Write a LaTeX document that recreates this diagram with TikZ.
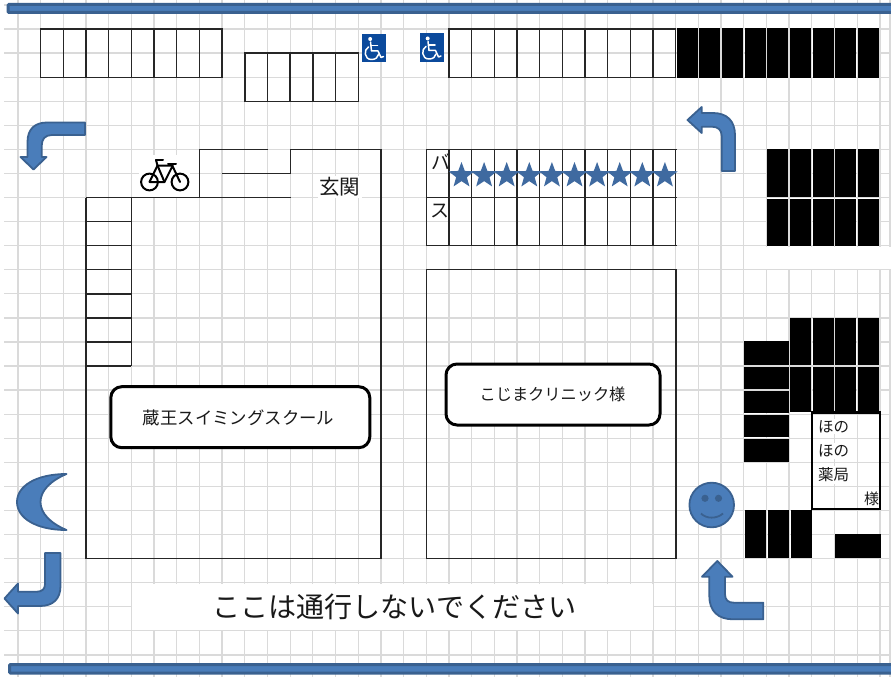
\documentclass[tikz,border=0pt]{standalone}
\usepackage{fontspec}
\newfontfamily\cjk{Noto Sans CJK JP}
\usetikzlibrary{shapes.geometric}
\definecolor{gridgray}{HTML}{DADADA}
\definecolor{bluefill}{HTML}{4A7DBA}
\definecolor{blueedge}{HTML}{3A6190}
\definecolor{barblue}{HTML}{3F6AA0}
\definecolor{wheelblue}{HTML}{0B4A9C}
\tikzset{
  gridline/.style={draw=gridgray,line width=1.3pt},
  wall/.style={draw=black!85,line width=1.4pt},
  cellblack/.style={fill=black,draw=none},
  blueshape/.style={fill=bluefill,draw=blueedge,line width=1.8pt,line join=round},
  bar/.style={fill=bluefill,draw=blueedge,line width=3pt,rounded corners=1pt},
  labelbox/.style={draw=black,fill=white,line width=3pt,rounded corners=11pt},
  txt/.style={font=\cjk,inner sep=0pt,text=black!90},
  txtbg/.style={txt,fill=white,inner sep=1.5pt},
  starmark/.style={star,star points=5,star point ratio=2.4,minimum size=27pt,inner sep=0pt,fill=barblue,draw=none},
  wheelstroke/.style={draw=white,line width=1.5pt,line cap=round,line join=round},
  bikestroke/.style={draw=black,line width=2pt,line cap=round,line join=round}
}
\newcommand{\wheelicon}[3]{%
  \fill[wheelblue] (#1,#2) rectangle ++(#3,28.5);
  \begin{scope}[shift={(#1,#2)}]
    \fill[white] (8.2,5) circle[radius=2];
    \draw[wheelstroke] (8.5,8) -- (9.5,17) -- (16,17) -- (19,23.5) -- (21.5,22.5);
    \draw[wheelstroke] (9,11.5) -- (15.5,11.5);
    \draw[wheelstroke] (6.5,13) .. controls (1.5,15.5) and (2,25.5) .. (9.5,25.5) .. controls (13.5,25.5) and (16,23.5) .. (16.5,20.5);
  \end{scope}
}
\begin{document}
\begin{tikzpicture}[x=1pt,y=-1pt]
\useasboundingbox (0,0) rectangle (891,677);
\fill[white] (0,0) rectangle (891,677);
% grid
\foreach \k in {0,...,38} \draw[gridline] ({18+22.68*\k},0) -- ({18+22.68*\k},677);
\draw[gridline] (890,0) -- (890,677);
\foreach \j in {0,...,27} \draw[gridline] (4,{5+24.07*\j}) -- (891,{5+24.07*\j});
% cleared parts of the grid
\fill[white] (131.7,583.6) rectangle (653,630);
\fill[white] (746.3,246.6) rectangle (891,269);
\fill[white] (139,155) rectangle (190,196.8);
% top and bottom bars
\draw[bar] (8,4.5) rectangle (894,12.5);
\draw[bar] (9.5,664.5) rectangle (894,673);
% top parking rows
\foreach \k in {1,...,9} \draw[wall] ({18+22.68*\k},29) -- ({18+22.68*\k},77.2);
\draw[wall] (40,29) -- (222.8,29) (40,77.2) -- (222.8,77.2);
\foreach \k in {10,...,15} \draw[wall] ({18+22.68*\k},53.2) -- ({18+22.68*\k},101.3);
\draw[wall] (244.1,53.2) -- (358.9,53.2) (244.1,101.3) -- (358.9,101.3);
\foreach \k in {19,...,29} \draw[wall] ({18+22.68*\k},29) -- ({18+22.68*\k},77.2);
\draw[wall] (448.2,29) -- (676,29) (448.2,77.2) -- (676,77.2);
% black cells, top right
\foreach \k in {29,...,37} \fill[cellblack] ({18+22.68*\k+0.8},28.5) rectangle ({18+22.68*\k+22},78);
\foreach \k in {33,...,37} {
  \fill[cellblack] ({18+22.68*\k+0.8},149) rectangle ({18+22.68*\k+22},196.8);
  \fill[cellblack] ({18+22.68*\k+0.8},198.5) rectangle ({18+22.68*\k+22},246);
}
% black cells, lower right
\foreach \k in {34,...,37} {
  \fill[cellblack] ({18+22.68*\k+0.8},317.5) rectangle ({18+22.68*\k+22},365.2);
  \fill[cellblack] ({18+22.68*\k+0.8},366.8) rectangle ({18+22.68*\k+22},412);
}
\fill[cellblack] (744,341.3) rectangle (789.4,365.2);
\fill[cellblack] (744,366.8) rectangle (789.4,389.3);
\fill[cellblack] (744,390.9) rectangle (789.4,413.3);
\fill[cellblack] (744,414.9) rectangle (789.4,437.4);
\fill[cellblack] (744,439) rectangle (789.4,461.5);
\foreach \k in {32,33,34} \fill[cellblack] ({18+22.68*\k+1.4},509.5) rectangle ({18+22.68*\k+22.4},557.5);
\fill[cellblack] (834.7,534.3) rectangle (880.5,557.5);
% wheelchair marks
\wheelicon{362}{34}{24}
\wheelicon{419.5}{33.5}{24.5}
% swimming school building
\draw[wall] (86,197.6) -- (86,558.5) -- (381,558.5) -- (381,149.6) -- (290.5,149.6) -- (290.5,173.6) -- (222,173.6);
\draw[wall] (267.8,149.6) -- (199.6,149.6) -- (199.6,197.6);
\draw[wall] (86,197.6) -- (290.5,197.6);
\draw[wall] (131.4,197.6) -- (131.4,366);
\foreach \j in {9,...,15} \draw[wall] (86,{5+24.07*\j}) -- (131.4,{5+24.07*\j});
\node[txtbg,font=\cjk\fontsize{20.5}{20.5}\selectfont] (genkan) at (339.5,187) {玄関};
\node[labelbox,minimum width=259pt,minimum height=61pt] (zaobox) at (240.3,417.2) {};
\node[txt,font=\cjk\fontsize{17.4}{17.4}\selectfont] (zao) at (238.5,418) {蔵王スイミングスクール};
% bicycle
\draw[bikestroke] (149.5,182) circle[radius=8.4];
\draw[bikestroke] (180,182) circle[radius=8.4];
\draw[bikestroke] (149.5,182) -- (164.5,182) -- (172.5,166) -- (180,182);
\draw[bikestroke] (149.5,182) -- (157.5,165.5) -- (172.5,165.5);
\draw[bikestroke] (157.5,165.5) -- (164.5,182);
\draw[bikestroke] (156,160) -- (163,160);
\draw[bikestroke] (156,160) -- (157.5,165.5);
\draw[bikestroke] (168,164) -- (176,164);
% bus bays
\begin{scope}
  \clip (427,150) rectangle (448.5,197);
  \node[txt,font=\cjk\fontsize{19}{19}\selectfont] (ba) at (441,162) {バ};
\end{scope}
\node[txt,font=\cjk\fontsize{19}{19}\selectfont] (su) at (440,211) {ス};
\foreach \k in {18,...,29} \draw[wall] ({18+22.68*\k},149.6) -- ({18+22.68*\k},245.7);
\draw[wall] (426.2,149.6) -- (676.5,149.6) (426.2,197.6) -- (676.5,197.6) (426.2,245.7) -- (676.5,245.7);
\foreach \k in {0,...,9} \node[starmark] (star\k) at ({461.5+22.6*\k},175.5) {};
% clinic
\draw[wall] (426.5,269.7) rectangle (676,558.5);
\node[labelbox,minimum width=214pt,minimum height=61pt] (clinicbox) at (553,394.5) {};
\node[txt,font=\cjk\fontsize{16.2}{16.2}\selectfont] (clinic) at (552.5,394) {こじまクリニック様};
% pharmacy
\draw[draw=black,line width=2.2pt] (812.2,412.5) rectangle (880.3,509.3);
\node[txtbg,font=\cjk\fontsize{15.5}{16}\selectfont] (hono1) at (833.5,426.5) {ほの};
\node[txtbg,font=\cjk\fontsize{15.5}{16}\selectfont] (hono2) at (833.5,451) {ほの};
\node[txtbg,font=\cjk\fontsize{15.5}{16}\selectfont] (yakkyoku) at (833.5,475) {薬局};
\node[txt,fill=white,font=\cjk\fontsize{15}{15}\selectfont] (sama) at (871.5,499) {様};
% warning text
\node[txt,font=\cjk\fontsize{28.1}{28.1}\selectfont] (notice) at (394.5,607) {ここは通行しないでください};
% arrows
\draw[blueshape] (85,122.5) -- (85,135) -- (52,135) .. controls (45,135) and (41.7,139) .. (41.7,146) -- (41.7,157) -- (46.5,157) -- (33.5,169.5) -- (20.5,157) -- (27.5,157) -- (27.5,142) .. controls (27.5,129) and (35,122.5) .. (47,122.5) -- cycle;
\draw[blueshape] (687.5,120) -- (701.7,107) -- (701.7,113) -- (713,113) .. controls (727,113) and (735,121) .. (735,135) -- (735,171) -- (721.7,171) -- (721.7,136) .. controls (721.7,130) and (718,126.7) .. (712,126.7) -- (701.7,126.7) -- (701.7,133) -- cycle;
\draw[blueshape] (45,553) -- (60.5,553) -- (60.5,586) .. controls (60.5,599) and (53,606) .. (40,606) -- (18,606) -- (18,613.5) -- (4.5,598.5) -- (18,583.5) -- (18,591.7) -- (37,591.7) .. controls (42,591.7) and (45,589) .. (45,584) -- cycle;
\draw[blueshape] (717.3,561) -- (732.5,576.7) -- (725,576.7) -- (725,594) .. controls (725,600) and (728,602.7) .. (734,602.7) -- (763.3,602.7) -- (763.3,619.3) -- (733,619.3) .. controls (718,619.3) and (709.3,611) .. (709.3,596) -- (709.3,576.7) -- (702,576.7) -- cycle;
% moon
\draw[blueshape] (66.5,474) .. controls (36,474) and (17,486) .. (17,502) .. controls (17,518) and (36,530) .. (66.5,530) .. controls (50,523) and (40.5,513) .. (40.5,502) .. controls (40.5,491) and (50,481) .. (66.5,474) -- cycle;
% smiley
\draw[blueshape] (711.7,505) circle[radius=22.3];
\fill[blueedge] (705,498.3) circle[radius=3.6];
\fill[blueedge] (718.5,498.3) circle[radius=3.6];
\draw[draw=blueedge,line width=1.8pt] (701,513.5) .. controls (706,519) and (717,519) .. (723,513.5);
\end{tikzpicture}
\end{document}
